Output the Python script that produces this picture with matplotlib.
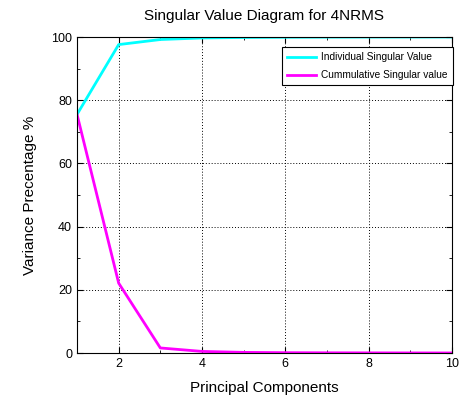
import matplotlib
matplotlib.use("Agg")
import matplotlib.pyplot as plt
from matplotlib.ticker import MultipleLocator

plt.rcParams['font.family'] = ['Liberation Sans', 'DejaVu Sans']

components = [1, 2, 3, 4, 5, 6, 7, 8, 9, 10]
individual = [75.5, 97.6, 99.2, 99.7, 99.85, 99.92, 99.96, 99.98, 99.99, 100.0]
cumulative = [75.5, 22.1, 1.6, 0.5, 0.2, 0.1, 0.06, 0.04, 0.02, 0.01]

fig = plt.figure(figsize=(4.64, 4.0), dpi=100)
ax = fig.add_axes([0.166, 0.1175, 0.808, 0.79])

ax.plot(components, individual, color='#00ffff', lw=2, label='Individual Singular Value')
ax.plot(components, cumulative, color='#ff00ff', lw=2, label='Cummulative Singular value')

ax.set_xlim(1, 10)
ax.set_ylim(0, 100)
ax.xaxis.set_major_locator(MultipleLocator(2))
ax.yaxis.set_major_locator(MultipleLocator(20))
ax.xaxis.set_minor_locator(MultipleLocator(1))
ax.yaxis.set_minor_locator(MultipleLocator(10))
ax.tick_params(which='both', direction='in', top=True, right=True, labelsize=9)
ax.tick_params(which='major', length=4)
ax.tick_params(which='minor', length=2)
ax.grid(True, which='major', color='black', linestyle=(0, (1, 2)), linewidth=0.7)

ax.set_title('Singular Value Diagram for 4NRMS', fontsize=11, pad=12)
ax.set_xlabel('Principal Components', fontsize=11, labelpad=8)
ax.set_ylabel('Variance Precentage %', fontsize=11, labelpad=10)

leg = ax.legend(loc='upper right', bbox_to_anchor=(1.003, 0.968), fontsize=7.3,
                fancybox=False, framealpha=1, edgecolor='black', handlelength=2.9,
                handletextpad=0.5, labelspacing=0.8, borderpad=0.5,
                borderaxespad=0)
leg.get_frame().set_linewidth(0.8)

fig.savefig('out.png', dpi=100)
